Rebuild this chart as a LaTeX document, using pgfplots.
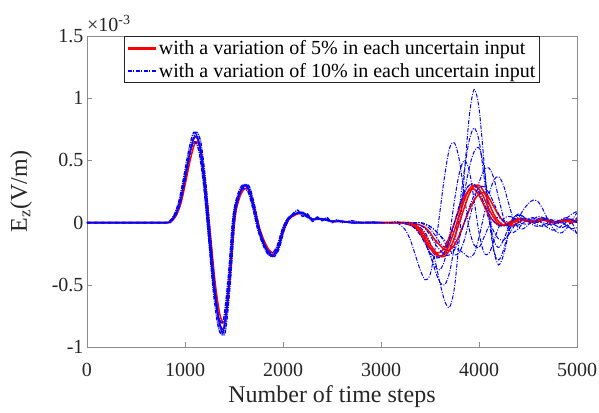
\documentclass[border=0pt]{standalone}
\usepackage{fontspec}
\setmainfont{Liberation Serif}
\usepackage{pgfplots}
\usepackage{pgfplotstable}
\pgfplotsset{compat=1.18}

% early part of the responses (0..3000 time steps), values in 1e-3 V/m
\pgfplotstableread{
t    tm   tp   v      va     vb     vn
0    -10  10   0      0      0      0
400  390  410  0      0      0      0
800  790  810  0      0      0      0
850  840  860  0.01   0.01   0.01   0.01
900  890  910  0.06   0.063  0.056  0.06
950  940  960  0.17   0.179  0.160  0.17
1000 990  1010 0.36   0.378  0.338  0.37
1050 1040 1060 0.56   0.588  0.526  0.57
1100 1090 1110 0.69   0.725  0.649  0.70
1150 1140 1160 0.62   0.651  0.583  0.63
1200 1190 1210 0.32   0.336  0.301  0.33
1250 1240 1260 -0.11  -0.116 -0.103 -0.11
1300 1290 1310 -0.53  -0.557 -0.498 -0.54
1350 1340 1360 -0.80  -0.840 -0.752 -0.82
1400 1390 1410 -0.84  -0.882 -0.790 -0.86
1450 1440 1460 -0.48  -0.504 -0.451 -0.49
1500 1490 1510 0.04   0.042  0.038  0.04
1550 1540 1560 0.22   0.231  0.207  0.22
1600 1590 1610 0.29   0.305  0.273  0.30
1650 1640 1660 0.27   0.284  0.254  0.28
1700 1690 1710 0.13   0.137  0.122  0.13
1750 1740 1760 -0.045 -0.047 -0.042 -0.05
1800 1790 1810 -0.16  -0.168 -0.150 -0.17
1850 1840 1860 -0.236 -0.248 -0.222 -0.25
1900 1890 1910 -0.26  -0.273 -0.244 -0.27
1950 1940 1960 -0.20  -0.210 -0.188 -0.21
2000 1990 2010 -0.063 -0.066 -0.059 -0.06
2050 2040 2060 0.025  0.026  0.024  0.03
2100 2090 2110 0.058  0.061  0.055  0.07
2150 2140 2160 0.077  0.081  0.072  0.10
2200 2190 2210 0.077  0.081  0.072  0.05
2250 2240 2260 0.05   0.053  0.047  0.07
2300 2290 2310 0.025  0.026  0.024  0.01
2350 2340 2360 0.03   0.032  0.028  0.045
2400 2390 2410 0.03   0.032  0.028  0.015
2450 2440 2460 0.02   0.021  0.019  0.04
2500 2490 2510 0.01   0.011  0.009  0.0
2550 2540 2560 0.01   0.011  0.009  0.025
2600 2590 2610 0.01   0.011  0.009  0.0
2700 2690 2710 0      0      0      0.015
2800 2790 2810 0      0      0      0
2900 2890 2910 0      0      0      0.005
3000 2990 3010 0      0      0      0
}\early

% late part (3000..5000 time steps)
\pgfplotstableread{
t    r1    r2    r3    r4    b1    b2    b3    b4    b5    b6    b7    b8    b9    b10
3000 0     0     0     0     0     0     0     0     0     0     0     0     0     0
3050 0     0     0     0     0     0     0     0     0     0     0     0     0     0
3100 0     0     0     0     0     0     0     0     0     0     0     0     0     0
3150 0     0     0     0     0.01  0     0     0     0     0     0     0     0     0
3200 0     0     0     0     0     0     -0.02 0     0     0     0     0     0     0
3250 0     -0.01 0     0     0     0     -0.06 0     0     0     0     0     -0.01 0
3300 -0.01 -0.02 0     -0.02 -0.01 -0.01 -0.14 0     0     0     0     0     -0.02 0
3350 -0.02 -0.04 -0.01 -0.03 -0.02 -0.03 -0.26 0     0     -0.02 0     -0.03 -0.05 -0.01
3400 -0.05 -0.09 -0.02 -0.07 -0.04 -0.07 -0.38 0     0     -0.06 0     -0.08 -0.10 -0.02
3450 -0.10 -0.15 -0.04 -0.13 -0.08 -0.14 -0.46 -0.01 -0.02 -0.12 -0.01 -0.16 -0.17 -0.05
3500 -0.17 -0.21 -0.08 -0.20 -0.16 -0.25 -0.42 -0.03 -0.05 -0.20 -0.03 -0.26 -0.24 -0.10
3550 -0.23 -0.24 -0.14 -0.25 -0.30 -0.38 -0.22 -0.06 -0.10 -0.26 -0.06 -0.35 -0.28 -0.17
3600 -0.27 -0.24 -0.18 -0.27 -0.48 -0.48 0.08  -0.10 -0.16 -0.28 -0.10 -0.38 -0.28 -0.22
3650 -0.27 -0.20 -0.22 -0.25 -0.63 -0.50 0.38  -0.14 -0.20 -0.24 -0.16 -0.30 -0.23 -0.26
3700 -0.22 -0.11 -0.22 -0.17 -0.68 -0.40 0.60  -0.18 -0.20 -0.14 -0.22 -0.10 -0.13 -0.26
3750 -0.12 0.0   -0.18 -0.06 -0.52 -0.18 0.64  -0.20 -0.12 0.0   -0.26 0.18  0.0   -0.22
3800 0.0   0.11  -0.10 0.06  -0.12 0.12  0.50  -0.22 0.04  0.14  -0.24 0.40  0.13  -0.12
3850 0.12  0.21  0.0   0.18  0.38  0.42  0.22  -0.25 0.24  0.24  -0.14 0.50  0.24  0.0
3900 0.23  0.26  0.10  0.27  0.85  0.66  -0.05 -0.28 0.44  0.30  0.02  0.42  0.30  0.12
3950 0.29  0.27  0.18  0.30  1.07  0.76  -0.18 -0.25 0.57  0.30  0.18  0.18  0.31  0.22
4000 0.30  0.22  0.23  0.27  0.92  0.66  -0.20 -0.12 0.60  0.24  0.32  -0.08 0.25  0.28
4050 0.25  0.14  0.24  0.20  0.50  0.38  -0.12 0.06  0.45  0.14  0.42  -0.24 0.16  0.29
4100 0.16  0.06  0.20  0.11  0.05  0.06  -0.03 0.22  0.12  0.03  0.44  -0.25 0.07  0.24
4150 0.07  0.01  0.13  0.04  -0.22 -0.14 0.03  0.34  -0.22 -0.07 0.36  -0.15 0.01  0.16
4200 0.01  -0.02 0.06  -0.01 -0.30 -0.20 0.04  0.37  -0.34 -0.13 0.20  -0.04 -0.02 0.07
4250 -0.02 -0.02 0.01  -0.02 -0.22 -0.14 0.02  0.30  -0.26 -0.14 0.04  0.03  -0.03 0.01
4300 -0.02 0.0   -0.02 -0.01 -0.08 -0.04 0.0   0.16  -0.10 -0.10 -0.06 0.05  -0.01 -0.03
4350 0.0   0.02  -0.02 0.01  0.03  0.04  -0.02 0.03  0.02  -0.04 -0.08 0.04  0.02  -0.03
4400 0.02  0.03  0.0   0.03  0.07  0.06  -0.02 -0.04 0.06  0.03  -0.05 0.01  0.04  0.0
4450 0.03  0.02  0.02  0.02  0.05  0.04  0.0   -0.05 0.05  0.10  0.0   -0.01 0.03  0.03
4500 0.02  0.01  0.02  0.01  0.01  0.01  0.02  -0.02 0.02  0.15  0.03  -0.01 0.01  0.03
4550 0.01  0.0   0.01  0.01  -0.02 0.0   0.03  0.02  0.0   0.18  0.04  0.01  0.0   0.01
4600 0.02  0.01  0.01  0.02  -0.03 0.02  0.02  0.05  -0.02 0.17  0.02  0.03  0.02  0.0
4650 0.03  0.02  0.02  0.02  -0.02 0.03  0.0   0.04  -0.03 0.11  -0.01 0.04  0.04  0.02
4700 0.01  0.02  0.02  0.01  0.0   0.02  -0.01 0.02  -0.02 0.03  -0.04 0.03  0.02  0.03
4750 0.0   0.01  0.01  0.0   0.02  0.0   -0.02 -0.01 0.0   -0.04 -0.06 0.01  0.0   0.02
4800 0.01  0.0   0.0   0.01  0.02  -0.01 0.0   -0.03 0.01  -0.08 -0.05 0.0   0.01  0.0
4850 0.02  0.01  0.01  0.01  0.0   0.0   0.02  -0.04 0.0   -0.08 -0.02 0.01  0.03  0.01
4900 0.01  0.02  0.02  0.02  -0.03 0.02  0.03  -0.02 -0.02 -0.04 0.01  0.04  0.04  0.03
4950 0.0   0.01  0.02  0.01  -0.05 0.03  0.01  0.0   -0.06 0.02  0.0   0.07  0.02  0.02
5000 0.02  0.02  0.01  0.02  -0.04 0.02  0.0   0.04  -0.08 0.08  -0.10 0.09  0.01  0.0
}\late

\pgfplotsset{
  rd/.style={red, line width=1.5pt, smooth, forget plot},
  bl/.style={blue, line width=1pt, dash pattern=on 4pt off 1.5pt on 1pt off 1.5pt, smooth, forget plot},
  ble/.style={blue, line width=1.4pt, dash pattern=on 4pt off 1pt on 1pt off 1pt, smooth, forget plot},
}

\begin{document}
\begin{tikzpicture}
\useasboundingbox (-87pt,-65pt) rectangle (512pt,347pt);
\begin{axis}[
  at={(0pt,0pt)}, anchor=south west,
  scale only axis, width=490pt, height=311pt,
  xmin=0, xmax=5000, ymin=-1, ymax=1.5,
  xtick={0,1000,2000,3000,4000,5000},
  xticklabels={0,1000,2000,3000,4000,5000},
  ytick={-1,-0.5,0,0.5,1,1.5},
  yticklabels={-1,-0.5,0,0.5,1,1.5},
  tick align=inside, major tick length=5pt,
  axis line style={black!45}, every tick/.style={black!45},
  tick label style={font=\fontsize{20}{24}\selectfont, black!85},
  xticklabel style={anchor=base, yshift=-29pt},
  xlabel={Number of time steps},
  xlabel style={font=\fontsize{24}{28}\selectfont, black!85, at={(axis description cs:0.5,-0.180)}, anchor=base},
  ylabel={E\textsubscript{z}(V/m)},
  ylabel style={font=\fontsize{24}{28}\selectfont, black!85, at={(axis description cs:-0.1347,0.5)}, anchor=center},
  legend style={at={(axis description cs:0.5,1)}, anchor=north, draw=black!85, line width=1.3pt,
    font=\fontsize{20}{23}\selectfont, inner sep=2pt, row sep=3pt, fill=white},
  legend cell align=left,
  legend image code/.code={\draw[#1] (0pt,0pt) -- (28pt,0pt);},
]
\addlegendimage{red, line width=2.4pt}
\addlegendimage{blue, line width=1.2pt, dash pattern=on 4pt off 1.5pt on 1pt off 1.5pt}

% early part
\addplot[rd] table[x=t,  y=v ]{\early};
\addplot[rd] table[x=tp, y=vb]{\early};
\addplot[ble] table[x=tm, y=va]{\early};
\addplot[ble] table[x=tp, y=va]{\early};
\addplot[ble] table[x=tm, y=vb]{\early};
\addplot[ble] table[x=t,  y=v ]{\early};
\addplot[ble] table[x=t,  y=vn]{\early};

% late part
\addplot[bl] table[x=t, y=b1 ]{\late};
\addplot[bl] table[x=t, y=b2 ]{\late};
\addplot[bl] table[x=t, y=b3 ]{\late};
\addplot[bl] table[x=t, y=b4 ]{\late};
\addplot[bl] table[x=t, y=b5 ]{\late};
\addplot[bl] table[x=t, y=b6 ]{\late};
\addplot[bl] table[x=t, y=b7 ]{\late};
\addplot[bl] table[x=t, y=b8 ]{\late};
\addplot[rd] table[x=t, y=r1 ]{\late};
\addplot[rd] table[x=t, y=r2 ]{\late};
\addplot[rd] table[x=t, y=r3 ]{\late};
\addplot[rd] table[x=t, y=r4 ]{\late};
\addplot[bl] table[x=t, y=b9 ]{\late};
\addplot[bl] table[x=t, y=b10]{\late};

\legend{with a variation of 5\% in each uncertain input, with a variation of 10\% in each uncertain input}
\end{axis}
\node[anchor=base west, font=\fontsize{20}{24}\selectfont, text=black!85, inner sep=0pt]
  at ([yshift=4pt]current axis.north west) {×10\textsuperscript{-3}};
\end{tikzpicture}
\end{document}
